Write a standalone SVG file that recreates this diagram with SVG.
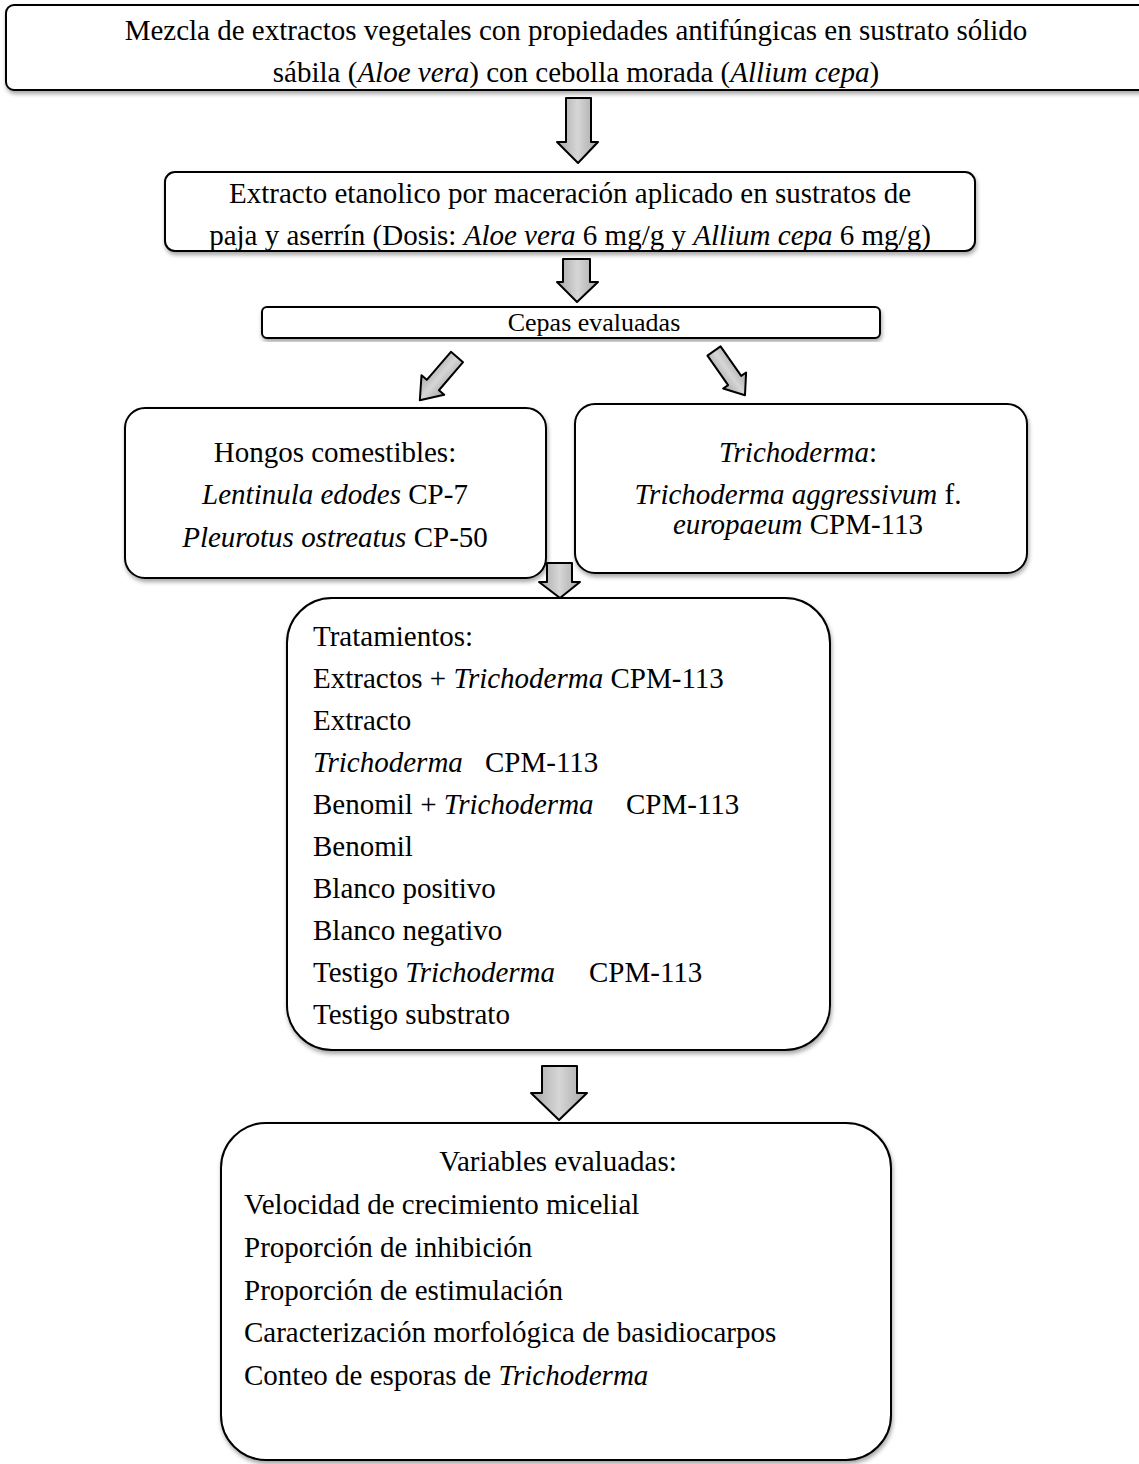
<svg xmlns="http://www.w3.org/2000/svg" width="1139" height="1464" viewBox="0 0 1139 1464">
<style>
text{font-family:"Liberation Serif","Times New Roman",serif;font-size:29px;fill:#000}
.c{text-anchor:middle}
.i{font-style:italic}
.s{font-size:26px}
.box{fill:#fff;stroke:#000;stroke-width:2;filter:url(#sh)}
.arr{fill:url(#g);stroke:#000;stroke-width:2;stroke-linejoin:round}
</style>
<defs>
<filter id="sh" x="-5%" y="-5%" width="110%" height="115%">
<feDropShadow dx="1" dy="3" stdDeviation="2" flood-color="#000" flood-opacity="0.35"/>
</filter>
<linearGradient id="g" x1="0" y1="0" x2="1" y2="0">
<stop offset="0" stop-color="#a6a6a6"/>
<stop offset="0.5" stop-color="#d6d6d6"/>
<stop offset="1" stop-color="#a6a6a6"/>
</linearGradient>
</defs>
<g id="n1">
<rect class="box" x="6" y="5" width="1150" height="85" rx="8"/>
<text class="c" x="576" y="40">Mezcla de extractos vegetales con propiedades antifúngicas en sustrato sólido</text>
<text class="c" x="576" y="82">sábila (<tspan class="i">Aloe vera</tspan>) con cebolla morada (<tspan class="i">Allium cepa</tspan>)</text>
</g>
<g id="n2">
<rect class="box" x="165" y="172" width="810" height="79" rx="10"/>
<text class="c" x="570" y="203">Extracto etanolico por maceración aplicado en sustratos de</text>
<text class="c" x="570" y="245">paja y aserrín (Dosis: <tspan class="i">Aloe vera</tspan> 6 mg/g y <tspan class="i">Allium cepa</tspan> 6 mg/g)</text>
</g>
<g id="n3">
<rect class="box" x="262" y="307" width="618" height="31" rx="5"/>
<text class="c s" x="594" y="331">Cepas evaluadas</text>
</g>
<g id="n4">
<rect class="box" x="125" y="408" width="421" height="170" rx="20"/>
<text class="c" x="335" y="462">Hongos comestibles:</text>
<text class="c" x="335" y="504"><tspan class="i">Lentinula edodes</tspan> CP-7</text>
<text class="c" x="335" y="547"><tspan class="i">Pleurotus ostreatus</tspan> CP-50</text>
</g>
<g id="n5">
<rect class="box" x="575" y="404" width="452" height="169" rx="20"/>
<text class="c" x="798" y="462"><tspan class="i">Trichoderma</tspan>:</text>
<text class="c" x="798" y="504"><tspan class="i">Trichoderma aggressivum</tspan> f.</text>
<text class="c" x="798" y="534"><tspan class="i">europaeum</tspan> CPM-113</text>
</g>
<g id="n6">
<rect class="box" x="287" y="598" width="543" height="452" rx="45"/>
<text x="313" y="646">Tratamientos:</text>
<text x="313" y="688">Extractos + <tspan class="i">Trichoderma</tspan> CPM-113</text>
<text x="313" y="730">Extracto</text>
<text x="313" y="772"><tspan class="i">Trichoderma</tspan><tspan x="485">CPM-113</tspan></text>
<text x="313" y="814">Benomil + <tspan class="i">Trichoderma</tspan><tspan x="626">CPM-113</tspan></text>
<text x="313" y="856">Benomil</text>
<text x="313" y="898">Blanco positivo</text>
<text x="313" y="940">Blanco negativo</text>
<text x="313" y="982">Testigo <tspan class="i">Trichoderma</tspan><tspan x="589">CPM-113</tspan></text>
<text x="313" y="1024">Testigo substrato</text>
</g>
<g id="n7">
<rect class="box" x="221" y="1123" width="670" height="337" rx="45"/>
<text class="c" x="558" y="1171">Variables evaluadas:</text>
<text x="244" y="1214">Velocidad de crecimiento micelial</text>
<text x="244" y="1257">Proporción de inhibición</text>
<text x="244" y="1300">Proporción de estimulación</text>
<text x="244" y="1342">Caracterización morfológica de basidiocarpos</text>
<text x="244" y="1385">Conteo de esporas de <tspan class="i">Trichoderma</tspan></text>
</g>
<g id="connectors">
<path class="arr" d="M566,98 H591 V142 H598 L578,163 L557,142 H566 Z"/>
<path class="arr" d="M563,259 H590 V282 H598 L577,302 L557,282 H563 Z"/>
<path class="arr" transform="translate(457,357) rotate(40.7)" d="M-8,0 H8 V37 H15 L0,57 L-15,37 H-8 Z"/>
<path class="arr" transform="translate(714,351) rotate(-35)" d="M-8,0 H8 V36 H14 L0,54 L-14,36 H-8 Z"/>
<path class="arr" d="M547,563 H572 V582 H580 L560,598 L539,582 H547 Z"/>
<path class="arr" d="M542,1066 H577 V1093 H587 L559,1120 L531,1093 H542 Z"/>
</g>
</svg>
